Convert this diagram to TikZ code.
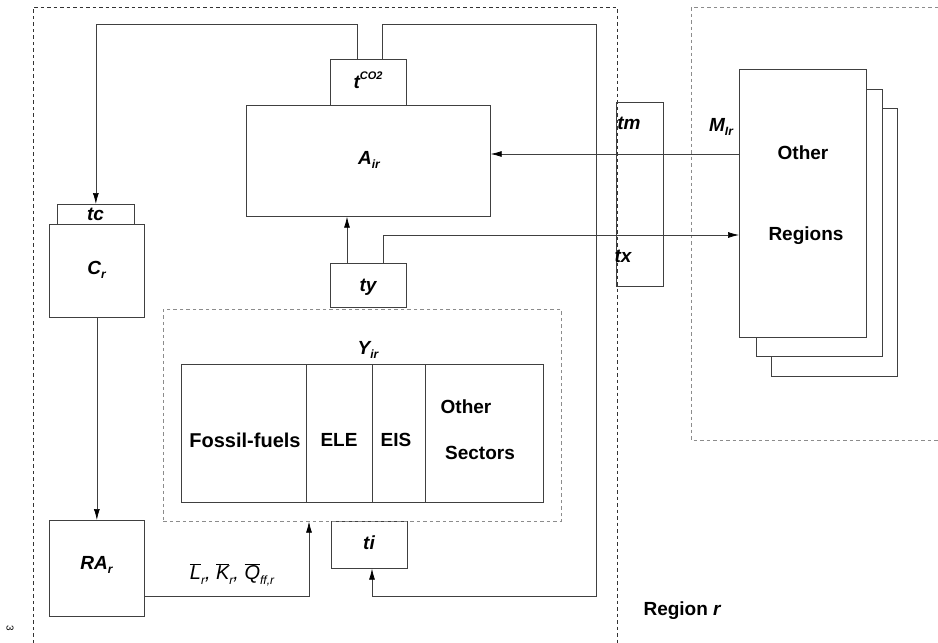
\documentclass[tikz,border=0pt]{standalone}
\usepackage{fontspec}
\setmainfont{Liberation Sans}
\usetikzlibrary{arrows.meta}
\newcommand\lsub[1]{\raisebox{-0.45ex}{\fontsize{12}{12}\selectfont #1}}
\newcommand\lsup[1]{\raisebox{0.9ex}{\fontsize{11}{11}\selectfont #1}}
\tikzset{
  box/.style={draw=black!75, line width=0.7pt, fill=white, rectangle, inner sep=0pt, anchor=north west},
  dbox/.style={draw=black!80, line width=0.6pt, dash pattern=on 3.5pt off 3pt},
  gbox/.style={draw=black!45, line width=0.6pt, dash pattern=on 3.5pt off 3pt},
  conn/.style={draw=black!75, line width=0.7pt},
  arr/.style={conn, -{Latex[length=11pt,width=6pt,color=black]}},
  lab/.style={font=\fontsize{19}{21}\selectfont\bfseries\itshape},
  txt/.style={font=\fontsize{19}{21}\selectfont\bfseries},
}
\begin{document}
\begin{tikzpicture}[x=1pt,y=-1pt]
\useasboundingbox (0,0) rectangle (938,643);
% dashed regions
\draw[dbox] (33,643) -- (33,7) -- (617,7) -- (617,643);
\draw[gbox] (938,7) -- (691,7) -- (691,440) -- (938,440);
% main boxes
\node[box, minimum width=244pt, minimum height=111pt] (A) at (246,105) {};
\node[lab] (Alab) at (369,160) {A\lsub{ir}};
\node[box, minimum width=76pt, minimum height=46pt] (tco) at (330,59) {};
\node[lab] (tcolab) at (368,80) {t\lsup{CO2}};
\node[box, minimum width=77pt, minimum height=20pt] (tc) at (57,204) {};
\node[lab] (tclab) at (95.5,214) {tc};
\node[box, minimum width=95pt, minimum height=93pt] (C) at (49,224) {};
\node[lab] (Clab) at (96.5,270) {C\lsub{r}};
\node[box, minimum width=95pt, minimum height=96pt] (RA) at (49,520) {};
\node[lab] (RAlab) at (96.5,565) {RA\lsub{r}};
\node[box, minimum width=76pt, minimum height=44pt] (ty) at (330,263) {};
\node[lab] (tylab) at (368,287) {ty};
\node[box, minimum width=76pt, minimum height=47pt] (ti) at (331,521) {};
\node[lab] (tilab) at (369,543) {ti};
% Y box
\node[gbox, rectangle, inner sep=0pt, anchor=north west, minimum width=398pt, minimum height=212pt] (Ybox) at (163,309) {};
\node[lab] (Ylab) at (368,350) {Y\lsub{ir}};
\node[box, minimum width=125pt, minimum height=138pt] (s1) at (181,364) {};
\node[box, minimum width=66pt, minimum height=138pt] (s2) at (306,364) {};
\node[box, minimum width=53pt, minimum height=138pt] (s3) at (372,364) {};
\node[box, minimum width=118pt, minimum height=138pt] (s4) at (425,364) {};
\node[txt, font=\fontsize{20}{22}\selectfont\bfseries] (s1lab) at (245,440) {Fossil-fuels};
\node[txt] (s2lab) at (339,440) {ELE};
\node[txt] (s3lab) at (396,440) {EIS};
\node[txt] (s4a) at (466,407) {Other};
\node[txt] (s4b) at (480,453) {Sectors};
% tm / tx
\node[box, fill=none, minimum width=47pt, minimum height=184pt] (tmx) at (616,102) {};
\node[lab] (tmlab) at (629,123) {tm};
\node[lab] (txlab) at (623,256) {tx};
% Other regions stack
\node[box, minimum width=126pt, minimum height=268pt] (OR3) at (771,108) {};
\node[box, minimum width=126pt, minimum height=267pt] (OR2) at (756,89) {};
\node[box, minimum width=127pt, minimum height=268pt] (OR1) at (739,69) {};
\node[txt] (ORa) at (803,153) {Other};
\node[txt] (ORb) at (806,236) {Regions};
\node[lab] (Mlab) at (721,127) {M\lsub{Ir}};
% coordinates
\coordinate (p1) at (357,24);
\coordinate (p2) at (382,24);
\coordinate (p3) at (596,24);
\coordinate (p4) at (596,596);
\coordinate (q) at (309,0);
\coordinate (ax) at (347,0);
\coordinate (bx) at (383,0);
\coordinate (ey) at (0,235);
\coordinate (my) at (0,154);
\coordinate (tx0) at (372,0);
% connectors
\draw[arr] (tco.north -| p1) -- (p1) -| (tc.north);
\draw[arr] (tco.north -| p2) -- (p2) -- (p3) -- (p4) -| (ti.south -| tx0);
\draw[arr] (C.south) -- (RA.north);
\draw[arr] (RA.east |- p4) -| (Ybox.south -| q);
\draw[arr] (ty.north -| ax) -- (A.south -| ax);
\draw[arr] (ty.north -| bx) |- (OR1.west |- ey);
\draw[arr] (OR1.west |- my) -- (A.east |- my);
\node[font=\fontsize{20}{22}\selectfont\itshape] (Llab) at (232,575)
  {$\overline{\hbox{L}}$\lsub{r}, $\overline{\hbox{K}}$\lsub{r}, $\overline{\hbox{Q}}$\lsub{ff,r}};
\node[txt, anchor=west] (reg) at (640,611) {Region \textit{r}};
\node[font=\fontsize{10}{10}\selectfont, rotate=-90] (pg) at (10,628) {3};
\end{tikzpicture}
\end{document}
